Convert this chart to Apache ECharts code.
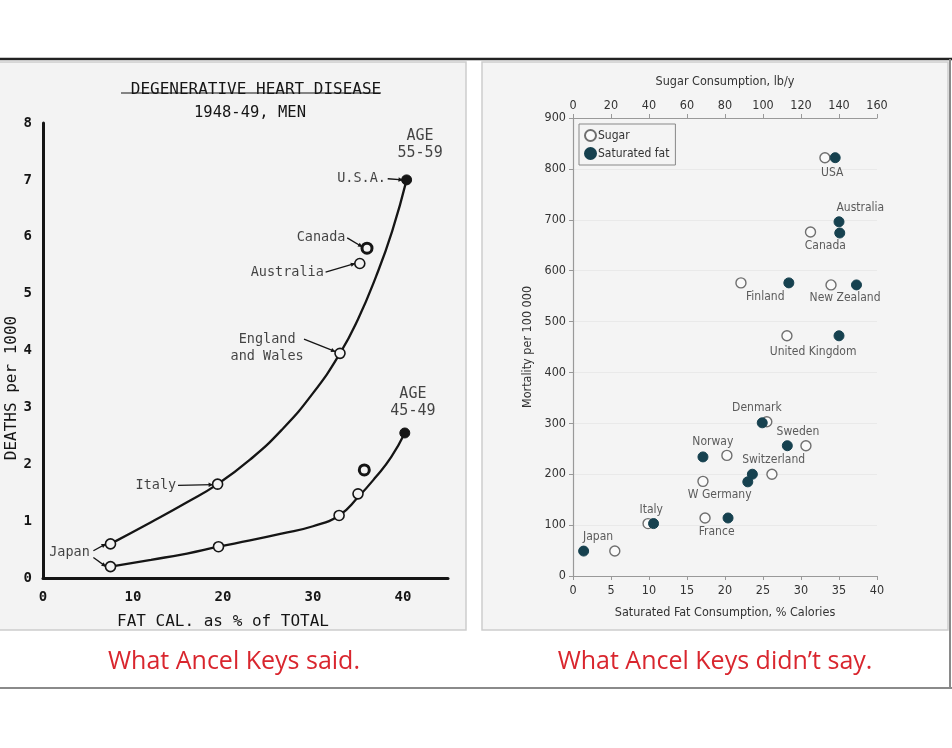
<!DOCTYPE html>
<html><head><meta charset="utf-8">
<script src="https://cdn.jsdelivr.net/npm/echarts@6/dist/echarts.min.js"></script>
<style>html,body{margin:0;padding:0;background:#fff}#c{width:952px;height:748px}</style>
</head><body><div id="c"></div>
<script>
// ---------- Left panel (Keys 1953) ----------
const keysFat55 = [7.5, 19.4, 33.0, 35.2, 36.0, 40.4];
const keysDeaths55 = [0.6, 1.65, 3.95, 5.53, 5.8, 7.0];
const keysFat45 = [7.5, 19.5, 32.9, 35.0, 35.7, 40.2];
const keysDeaths45 = [0.2, 0.55, 1.1, 1.48, 1.9, 2.55];
// curves as drawn
const curve55Fat = [7.5, 12, 16, 19.4, 23, 26.5, 30, 33, 35, 37, 38.8, 40.4];
const curve55Deaths = [0.6, 0.98, 1.33, 1.65, 2.08, 2.6, 3.25, 3.95, 4.55, 5.3, 6.1, 7.0];
const curve45Fat = [7.5, 12, 16, 19.5, 23, 26.5, 30, 32.9, 35, 37, 38.7, 40.2];
const curve45Deaths = [0.2, 0.32, 0.43, 0.55, 0.66, 0.78, 0.91, 1.1, 1.42, 1.78, 2.13, 2.55];

// ---------- Right panel ----------
const countries = ['USA','Australia','Canada','Finland','New Zealand','United Kingdom','Denmark','Sweden','Norway','Switzerland','W Germany','France','Italy','Japan'];
const satFat = [34.5, 35.0, 35.1, 28.4, 37.3, 35.0, 24.9, 28.2, 17.1, 23.6, 23.0, 20.4, 10.6, 1.4];
const satFatMortality = [822, 696, 674, 576, 572, 472, 301, 256, 234, 200, 185, 114, 103, 49];
const sugar = [132.6, 162.6, 125, 88.4, 135.8, 112.6, 102, 122.6, 81, 104.7, 68.4, 69.5, 39.5, 22];
const sugarMortality = [822, 690, 676, 576, 572, 472, 303, 256, 237, 200, 186, 114, 103, 49];
// label anchors (in sat-fat / mortality units)
const labelFat = [34.1, 37.8, 33.2, 25.3, 35.8, 31.6, 24.2, 29.6, 18.4, 26.4, 19.3, 18.9, 10.3, 3.3];
const labelMort = [792, 723, 648, 548, 546, 440, 330, 283, 263, 228, 159, 86, 130, 77];

const zip = (a, b) => a.map((v, i) => [v, b[i]]);

const handFont = 'DejaVu Sans Mono';
const condFont = 'DejaVu Sans Condensed';
const ink = '#151515';
const panelBg = '#f3f3f3';

const leftLabels = [
  {t: 'AGE\n55-59', x: 41.9, y: 7.62, align: 'center', size: 15},
  {t: 'AGE\n45-49', x: 41.1, y: 3.09, align: 'center', size: 15},
  {t: 'U.S.A.', x: 38.1, y: 7.02, align: 'right', size: 13.5},
  {t: 'Canada', x: 33.6, y: 5.98, align: 'right', size: 13.5},
  {t: 'Australia', x: 31.2, y: 5.38, align: 'right', size: 13.5},
  {t: 'England\nand Wales', x: 24.9, y: 4.04, align: 'center', size: 13.5},
  {t: 'Italy', x: 14.8, y: 1.62, align: 'right', size: 13.5},
  {t: 'Japan', x: 5.2, y: 0.44, align: 'right', size: 13.5}
];
const arrows = [
  [[38.3, 7.02], [40.0, 7.0]],
  [[33.8, 5.98], [35.5, 5.82]],
  [[31.4, 5.38], [34.7, 5.53]],
  [[29.0, 4.2], [32.5, 3.98]],
  [[15.0, 1.63], [18.9, 1.64]],
  [[5.6, 0.48], [7.0, 0.6]],
  [[5.6, 0.36], [7.0, 0.2]]
];

const chart = echarts.init(document.getElementById('c'), null, {renderer: 'canvas'});

const option = {
  animation: false,
  backgroundColor: '#ffffff',
  title: [
    {text: 'DEGENERATIVE HEART DISEASE', left: 251, top: 77, textAlign: 'center',
     textStyle: {fontFamily: handFont, fontSize: 16, fontWeight: 'normal', color: ink}},
    {text: '1948-49, MEN', left: 245, top: 100, textAlign: 'center',
     textStyle: {fontFamily: handFont, fontSize: 15.5, fontWeight: 'normal', color: ink}},
    {text: 'FAT CAL. as % of TOTAL', left: 218, top: 609, textAlign: 'center',
     textStyle: {fontFamily: handFont, fontSize: 16, fontWeight: 'normal', color: ink}},
    {text: 'What Ancel Keys said.', left: 229, top: 644, textAlign: 'center',
     textStyle: {fontFamily: 'Open Sans', fontSize: 25, fontWeight: 'normal', color: '#d9262e'}},
    {text: 'What Ancel Keys didn\u2019t say.', left: 710, top: 644, textAlign: 'center',
     textStyle: {fontFamily: 'Open Sans', fontSize: 25, fontWeight: 'normal', color: '#d9262e'}}
  ],
  graphic: [
    {type: 'rect', z: -10, shape: {x: -2, y: 62, width: 468, height: 568},
     style: {fill: panelBg, stroke: '#cdcdcd', lineWidth: 1.5}},
    {type: 'rect', z: -10, shape: {x: 482, y: 62, width: 466, height: 568},
     style: {fill: '#f4f4f4', stroke: '#cdcdcd', lineWidth: 1.5}},
    {type: 'line', z: -5, shape: {x1: 0, y1: 59, x2: 952, y2: 59}, style: {stroke: '#222', lineWidth: 2.5}},
    {type: 'line', z: -5, shape: {x1: 950, y1: 59, x2: 950, y2: 689}, style: {stroke: '#8a8a8a', lineWidth: 2}},
    {type: 'line', z: -5, shape: {x1: 0, y1: 688, x2: 952, y2: 688}, style: {stroke: '#8a8a8a', lineWidth: 2}},
    {type: 'line', shape: {x1: 121, y1: 93, x2: 381, y2: 93}, style: {stroke: ink, lineWidth: 1}},
    {type: 'text', x: 12, y: 388, rotation: Math.PI / 2,
     style: {text: 'DEATHS per 1000', fontFamily: handFont, fontSize: 16, fill: ink, align: 'center', verticalAlign: 'middle'}}
  ],
  legend: {
    show: true, data: ['Sugar', 'Saturated fat'], orient: 'vertical',
    left: 579, top: 124, padding: [5, 6, 5, 5], itemGap: 5,
    itemWidth: 11, itemHeight: 11, borderColor: '#888', borderWidth: 1,
    textStyle: {fontFamily: condFont, fontSize: 12, color: '#333', padding: [0, 0, 0, -3]}
  },
  grid: [
    {left: 43, top: 123, width: 405, height: 455},
    {left: 573, top: 118, width: 304, height: 458}
  ],
  xAxis: [
    {gridIndex: 0, type: 'value', min: 0, max: 45, interval: 10,
     axisLine: {show: true, onZero: false, lineStyle: {color: ink, width: 3}},
     axisTick: {show: false}, splitLine: {show: false},
     axisLabel: {showMaxLabel: false, margin: 12, fontFamily: handFont, fontSize: 14, fontWeight: 'bold', color: ink}},
    {gridIndex: 1, type: 'value', min: 0, max: 40, interval: 5, position: 'bottom',
     name: 'Saturated Fat Consumption, % Calories', nameLocation: 'middle', nameGap: 30,
     nameTextStyle: {fontFamily: condFont, fontSize: 12.5, color: '#333'},
     axisLine: {show: true, onZero: false, lineStyle: {color: '#999', width: 1.2}},
     axisTick: {show: true, length: 4, inside: false, lineStyle: {color: '#999'}},
     splitLine: {show: false},
     axisLabel: {margin: 8, fontFamily: condFont, fontSize: 12.5, color: '#333'}},
    {gridIndex: 1, type: 'value', min: 0, max: 160, interval: 20, position: 'top',
     name: 'Sugar Consumption, lb/y', nameLocation: 'middle', nameGap: 30,
     nameTextStyle: {fontFamily: condFont, fontSize: 12.5, color: '#333'},
     axisLine: {show: true, onZero: false, lineStyle: {color: '#999', width: 1.2}},
     axisTick: {show: true, length: 4, lineStyle: {color: '#999'}},
     splitLine: {show: false},
     axisLabel: {margin: 6, fontFamily: condFont, fontSize: 12.5, color: '#333'}}
  ],
  yAxis: [
    {gridIndex: 0, type: 'value', min: 0, max: 8, interval: 1,
     axisLine: {show: true, onZero: false, lineStyle: {color: ink, width: 3}},
     axisTick: {show: false}, splitLine: {show: false},
     axisLabel: {margin: 11, fontFamily: handFont, fontSize: 14, fontWeight: 'bold', color: ink}},
    {gridIndex: 1, type: 'value', min: 0, max: 900, interval: 100,
     name: 'Mortality per 100 000', nameLocation: 'middle', nameGap: 39,
     nameTextStyle: {fontFamily: condFont, fontSize: 12.5, color: '#333'},
     axisLine: {show: true, lineStyle: {color: '#999', width: 1.2}},
     axisTick: {show: true, length: 4, lineStyle: {color: '#999'}},
     splitLine: {show: true, lineStyle: {color: '#e9e9e9', width: 1}},
     axisLabel: {margin: 7, fontFamily: condFont, fontSize: 12.5, color: '#333'}}
  ],
  series: [
    {type: 'line', xAxisIndex: 0, yAxisIndex: 0, data: zip(curve55Fat, curve55Deaths),
     smooth: 0.5, showSymbol: false, lineStyle: {color: ink, width: 2.3}, silent: true},
    {type: 'line', xAxisIndex: 0, yAxisIndex: 0, data: zip(curve45Fat, curve45Deaths),
     smooth: 0.5, showSymbol: false, lineStyle: {color: ink, width: 2.3}, silent: true},
    {type: 'scatter', xAxisIndex: 0, yAxisIndex: 0, symbolSize: 10,
     data: zip(keysFat55, keysDeaths55).map((p, i) => ({value: p,
       itemStyle: i === keysFat55.length - 1 ? {color: ink, borderColor: ink, opacity: 1} :
         (i === 4 ? {color: panelBg, borderColor: ink, borderWidth: 3, opacity: 1} : {color: panelBg, borderColor: ink, borderWidth: 1.6, opacity: 1})})),
     z: 5},
    {type: 'scatter', xAxisIndex: 0, yAxisIndex: 0, symbolSize: 10,
     data: zip(keysFat45, keysDeaths45).map((p, i) => ({value: p,
       itemStyle: i === keysFat45.length - 1 ? {color: ink, borderColor: ink, opacity: 1} :
         (i === 4 ? {color: panelBg, borderColor: ink, borderWidth: 3, opacity: 1} : {color: panelBg, borderColor: ink, borderWidth: 1.6, opacity: 1})})),
     z: 5},
    {type: 'scatter', xAxisIndex: 0, yAxisIndex: 0, symbolSize: 0, silent: true,
     data: leftLabels.map(l => ({value: [l.x, l.y],
       label: {show: true, formatter: l.t, position: 'inside', align: l.align, verticalAlign: 'middle',
               fontFamily: handFont, fontSize: l.size, lineHeight: 17, color: ink}}))},
    {name: 'Sugar', type: 'scatter', xAxisIndex: 2, yAxisIndex: 1, symbolSize: 10,
     data: zip(sugar, sugarMortality),
     itemStyle: {color: '#fafafa', borderColor: '#6f6f6f', borderWidth: 1.4, opacity: 1}, z: 4},
    {name: 'Saturated fat', type: 'scatter', xAxisIndex: 1, yAxisIndex: 1, symbolSize: 10,
     data: zip(satFat, satFatMortality),
     itemStyle: {color: '#16414f', borderColor: '#16414f', borderWidth: 1, opacity: 1}, z: 5},
    {type: 'scatter', xAxisIndex: 1, yAxisIndex: 1, symbolSize: 0, silent: true,
     data: countries.map((c, i) => ({value: [labelFat[i], labelMort[i]], name: c})),
     label: {show: true, position: 'inside', formatter: p => p.name,
             fontFamily: condFont, fontSize: 12, color: '#333'}}
  ]
};
chart.setOption(option);

// annotation arrows for the left panel (data units -> pixels)
const arrowGraphics = arrows.map(a => {
  const p1 = chart.convertToPixel({gridIndex: 0}, a[0]);
  const p2 = chart.convertToPixel({gridIndex: 0}, a[1]);
  const ang = Math.atan2(p2[1] - p1[1], p2[0] - p1[0]);
  const h = 5;
  return {type: 'group', children: [
    {type: 'line', shape: {x1: p1[0], y1: p1[1], x2: p2[0], y2: p2[1]}, style: {stroke: ink, lineWidth: 1.3}},
    {type: 'polygon', shape: {points: [
      [p2[0], p2[1]],
      [p2[0] - h * Math.cos(ang - 0.45), p2[1] - h * Math.sin(ang - 0.45)],
      [p2[0] - h * Math.cos(ang + 0.45), p2[1] - h * Math.sin(ang + 0.45)]]},
     style: {fill: ink}}
  ]};
});
chart.setOption({graphic: option.graphic.concat(arrowGraphics)});
</script></body></html>
